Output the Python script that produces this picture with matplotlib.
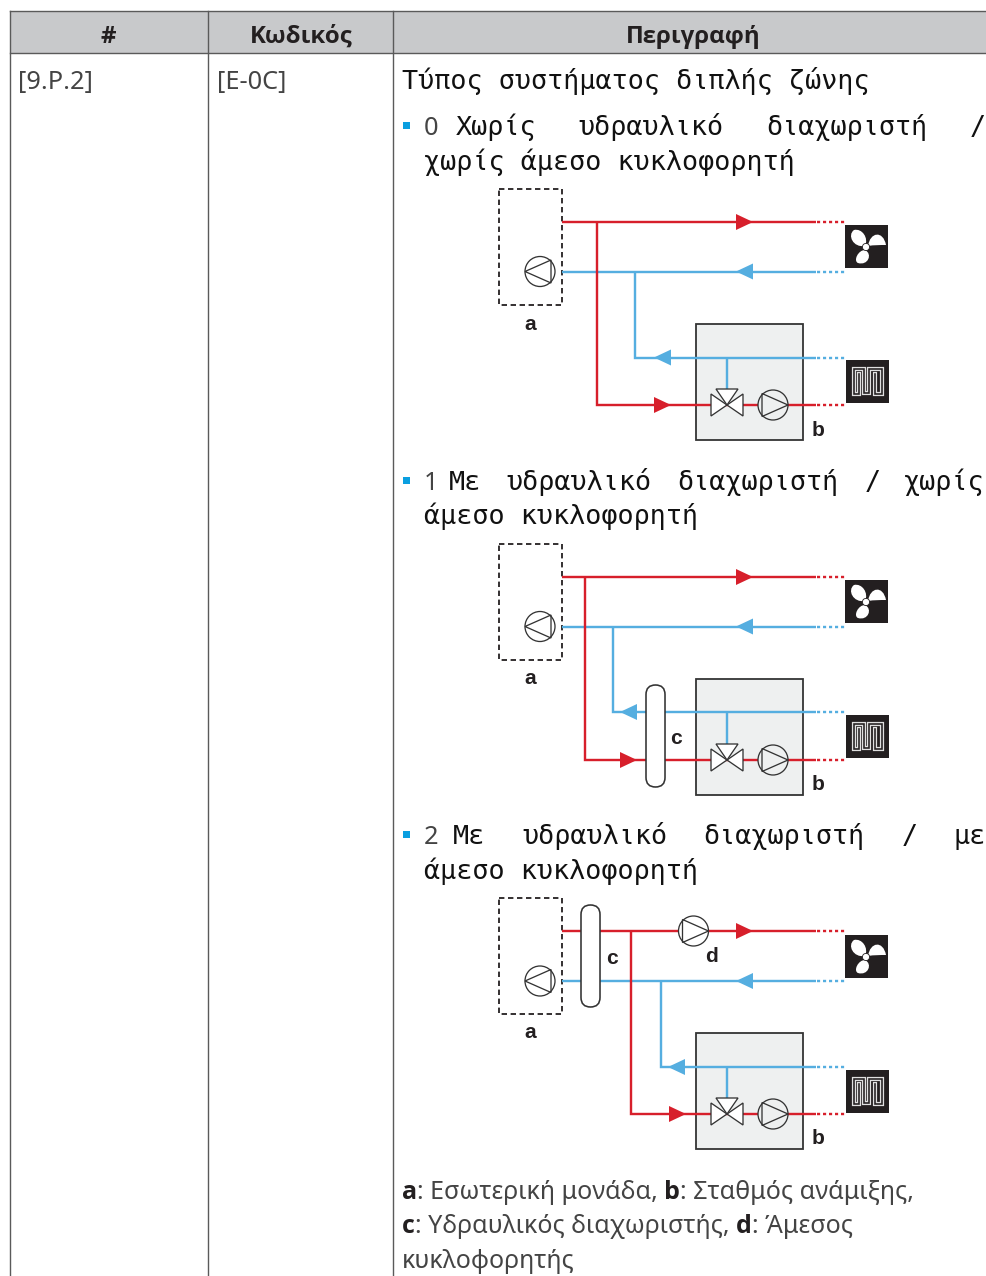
import numpy as np
import matplotlib
matplotlib.use("Agg")
import matplotlib.pyplot as plt
from matplotlib.patches import Rectangle, Circle, Polygon, PathPatch, FancyBboxPatch
from matplotlib.path import Path

# =============================================================================
# TEXT CONTENT
# =============================================================================

header_labels = ["#", "Κωδικός", "Περιγραφή"]
header_x = [108.5, 301.5, 693]
column_edges = [10, 208, 393]
menu_code = "[9.P.2]"
field_code = "[E-0C]"
title_line = "Τύπος συστήματος διπλής ζώνης"

# justified words : (text, x, baseline)
option_numbers = [("0", 424, 135), ("1", 424, 490), ("2", 424, 844)]
option_words = [
    ("Χωρίς", 456, 135), ("υδραυλικό", 578, 135), ("διαχωριστή", 766, 135), ("/", 970, 135),
    ("χωρίς άμεσο κυκλοφορητή", 424, 170),
    ("Με", 449, 490), ("υδραυλικό", 506, 490), ("διαχωριστή", 677, 490), ("/", 865, 490), ("χωρίς", 904, 490),
    ("άμεσο κυκλοφορητή", 424, 524),
    ("Με", 453, 844), ("υδραυλικό", 522, 844), ("διαχωριστή", 703, 844), ("/", 902, 844), ("με", 953, 844),
    ("άμεσο κυκλοφορητή", 424, 879),
]
legend_lines = [
    (1199, [("a", True), (": Εσωτερική μονάδα, ", False), ("b", True), (": Σταθμός ανάμιξης,", False)]),
    (1233, [("c", True), (": Υδραυλικός διαχωριστής, ", False), ("d", True), (": Άμεσος", False)]),
    (1268, [("κυκλοφορητής", False)]),
]

# =============================================================================
# DIAGRAM VALUES (one entry per diagram)
# =============================================================================

diagram_top = [189, 544, 898]       # top of the dashed box
red_main_y = [222, 577, 931]
blue_main_y = [271.5, 626.5, 981]
red_low_y = [405, 760, 1114]
blue_low_y = [357.5, 712, 1067]
red_branch_x = [597, 585, 631]
blue_branch_x = [635, 612.5, 661]
red_arrow_x = [654, 620, 669]
blue_arrow_x = [654, 620, 668]
box_top = [324, 679, 1033]
fan_top = [225, 580, 935]
coil_top = [360, 715, 1070]

RED = "#d71f2b"
BLUE = "#55aee0"
DARK = "#231f20"
GRID = "#5a5a5a"
MONO = "DejaVu Sans Mono"
SANS = "Noto Sans"
BOLD = "Open Sans"

fig = plt.figure(figsize=(9.86, 12.76), dpi=100)
ax = fig.add_axes([0, 0, 1, 1])
ax.set_xlim(0, 986)
ax.set_ylim(1276, 0)
ax.axis("off")

PX = 0.72  # one pixel in points

# =============================================================================
# TABLE
# =============================================================================

ax.add_patch(Rectangle((10, 11), 976, 42, fc="#c8c9cb", ec="none", zorder=0))
ax.plot([10, 986], [11, 11], c=GRID, lw=1.4 * PX)
ax.plot([10, 986], [53, 53], c=GRID, lw=1.4 * PX)
for x in column_edges:
    ax.plot([x, x], [11, 1276], c=GRID, lw=1.4 * PX)

for label_txt, x in zip(header_labels, header_x):
    ax.text(x, 43, label_txt, ha="center", va="baseline", family=BOLD, weight="bold",
            fontsize=24 * PX, color=DARK)

ax.text(18, 89, menu_code, va="baseline", family=SANS, fontsize=25.4 * PX, color="#444444")
ax.text(217, 89, field_code, va="baseline", family=SANS, fontsize=25.4 * PX, color="#444444")
ax.text(402, 89, title_line, va="baseline", family=MONO, fontsize=26.8 * PX, color="#111111")

for num, x, y in option_numbers:
    ax.text(x, y, num, va="baseline", family=SANS, fontsize=25.4 * PX, color="#444444")
    ax.add_patch(Rectangle((403, y - 13), 7, 7, fc="#0a9fe0", ec="none"))
for word, x, y in option_words:
    ax.text(x, y, word, va="baseline", family=MONO, fontsize=26.8 * PX, color="#111111")

fig.canvas.draw()
renderer = fig.canvas.get_renderer()
for y, parts in legend_lines:
    x = 402
    for txt, is_bold in parts:
        t = ax.text(x, y, txt.replace(" ", "\u00a0"), va="baseline",
                    family=BOLD if is_bold else SANS, fontsize=25 * PX,
                    weight="bold" if is_bold else "normal", color=DARK if is_bold else "#444444")
        x += t.get_window_extent(renderer).width

# =============================================================================
# DIAGRAMS
# =============================================================================

def pipe(xs, ys, color):
    ax.plot(xs, ys, c=color, lw=2.4 * PX, solid_joinstyle="miter", solid_capstyle="butt", zorder=2)

def dots(x0, x1, y, color):
    ax.plot([x0, x1], [y, y], c=color, lw=2.4 * PX, ls=(0, (1.3, 1.2)), zorder=2)

def arrow(x, y, color, right=True):
    if right:
        pts = [(x, y - 8), (x, y + 8), (x + 17, y)]
    else:
        pts = [(x + 17, y - 8), (x + 17, y + 8), (x, y)]
    ax.add_patch(Polygon(pts, closed=True, fc=color, ec="none", zorder=3))

def pump(cx, cy, right=True, fill="none"):
    ax.add_patch(Circle((cx, cy), 15, fc=fill, ec="#333333", lw=1.3 * PX, zorder=4))
    s = 1 if right else -1
    pts = [(cx - s * 11, cy - 11.5), (cx - s * 11, cy + 11.5), (cx + s * 15, cy)]
    ax.add_patch(Polygon(pts, closed=True, fc="none", ec="#333333", lw=1.3 * PX, zorder=4))

def valve(cx, cy):
    for pts in ([(cx, cy), (cx - 16, cy - 11), (cx - 16, cy + 11)],
                [(cx, cy), (cx + 16, cy - 11), (cx + 16, cy + 11)],
                [(cx, cy), (cx - 11, cy - 16), (cx + 11, cy - 16)]):
        ax.add_patch(Polygon(pts, closed=True, fc="white", ec="#333333", lw=1.3 * PX, zorder=4))

def fan(x, y):
    ax.add_patch(Rectangle((x, y), 43, 43, fc=DARK, ec="none", zorder=4))
    blades = [
        [(20, 21), (8, 23), (2, 10), (9, 5), (17, 3), (24, 13), (20, 21)],
        [(23, 21), (25, 7), (38, 5), (41, 20), (35, 20), (29, 20), (23, 21)],
        [(20, 25), (28, 29), (23, 41), (13, 38), (8, 36), (13, 25), (20, 25)],
    ]
    codes = [Path.MOVETO] + [Path.CURVE4] * 6
    for b in blades:
        verts = [(x + px, y + py) for px, py in b]
        ax.add_patch(PathPatch(Path(verts, codes), fc="white", ec="none", zorder=5))
    ax.add_patch(Circle((x + 21, y + 22), 3.6, fc="white", ec=DARK, lw=0.6, zorder=6))

def coil(x, y):
    ax.add_patch(Rectangle((x, y), 43, 43, fc=DARK, ec="none", zorder=4))
    tube = [(13, 14), (13, 34), (8, 34), (8, 9), (18, 9), (18, 33), (23, 33), (23, 9), (36, 9), (36, 34), (29, 34), (29, 14)]
    xs = [x + p[0] for p in tube]
    ys = [y + p[1] for p in tube]
    ax.plot(xs, ys, c="#e0e0e0", lw=4.2 * PX, solid_joinstyle="miter", zorder=5)
    ax.plot(xs, ys, c=DARK, lw=1.6 * PX, solid_joinstyle="miter", zorder=6)

def label(x, y, s):
    ax.text(x, y, s, ha="center", va="center", family="Liberation Sans", weight="bold",
            fontsize=21 * PX, color=DARK, zorder=6)

for i in range(3):
    top = diagram_top[i]
    ry, by = red_main_y[i], blue_main_y[i]
    rl, bl = red_low_y[i], blue_low_y[i]
    rb, bx = red_branch_x[i], blue_branch_x[i]

    # mixing station box goes below the pipes
    ax.add_patch(Rectangle((696, box_top[i]), 107, 116, fc="#eef0f0", ec="#333333", lw=1.8 * PX, zorder=1))

    # dashed indoor unit
    ax.add_patch(Rectangle((499, top), 63, 116, fc="none", ec=DARK, lw=1.8 * PX, ls=(0, (3.0, 2.0)), zorder=2))

    # main lines
    pipe([562, 816], [ry, ry], RED)
    dots(817, 845, ry, RED)
    pipe([562, 816], [by, by], BLUE)
    dots(817, 845, by, BLUE)
    arrow(736, ry, RED, True)
    arrow(736, by, BLUE, False)

    # branches to the mixing station
    pipe([bx, bx, 816], [by, bl, bl], BLUE)
    pipe([rb, rb, 816], [ry, rl, rl], RED)
    dots(817, 845, bl, BLUE)
    dots(817, 845, rl, RED)
    arrow(red_arrow_x[i], rl, RED, True)
    arrow(blue_arrow_x[i], bl, BLUE, False)
    pipe([727, 727], [bl, rl - 16], BLUE)

    valve(727, rl)
    pump(773, rl, True, "#eef0f0")
    pump(540, by, False)
    fan(845, fan_top[i])
    coil(846, coil_top[i])

    label(530, top + 135, "a")
    label(818, box_top[i] + 106, "b")

# hydraulic separators and direct pump
for x, y0, lx, ly in [(646, 685, 676, 738), (581, 905, 612, 958)]:
    ax.add_patch(FancyBboxPatch((x + 9.5, y0 + 9.5), 0.01, 83, boxstyle="round,pad=9.5,rounding_size=9.5",
                                fc="white", ec="#333333", lw=1.6 * PX, zorder=4))
    label(lx, ly, "c")
pump(693.5, 931, True, "white")
label(712, 957, "d")

fig.savefig("out.png", dpi=100)
